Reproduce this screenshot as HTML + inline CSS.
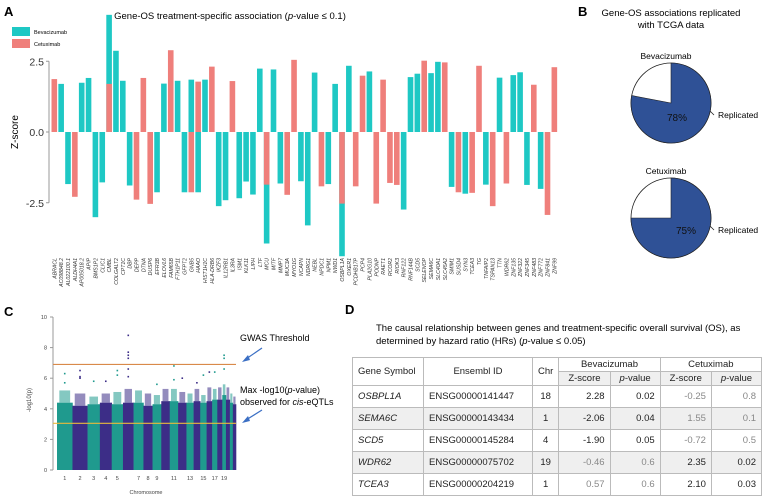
<!DOCTYPE html>
<html><head><meta charset="utf-8">
<style>
html,body{margin:0;padding:0;background:#fff;}
body{width:768px;height:501px;overflow:hidden;position:relative;font-family:"Liberation Sans",sans-serif;}
svg{position:absolute;left:0;top:0;}
table{position:absolute;left:352px;top:357px;width:410px;border-collapse:collapse;font-size:9.5px;color:#222;}
td,th{border:1px solid #bbb;height:21px;padding:0 5px;font-weight:normal;}
th{height:13px;}
.g{color:#888;}
.r{text-align:right;}
.c{text-align:center;}
.alt td{background:#efefef;}
</style></head>
<body>
<svg id="fig" width="768" height="501" xmlns="http://www.w3.org/2000/svg" font-family="Liberation Sans, sans-serif">
  <text x="4" y="16" font-size="13" font-weight="bold">A</text>
  <text x="230" y="19" font-size="9.5" text-anchor="middle">Gene-OS treatment-specific association (<tspan font-style="italic">p</tspan>-value ≤ 0.1)</text>
  <rect x="12" y="27" width="18" height="9" fill="#1ec8c4"/>
  <text x="34" y="34" font-size="5.5">Bevacizumab</text>
  <rect x="12" y="39" width="18" height="9" fill="#ef7f7b"/>
  <text x="34" y="46" font-size="5.5">Cetuximab</text>
  <text transform="translate(18,132) rotate(-90)" font-size="10" text-anchor="middle">Z-score</text>
  <g id="barA"></g>

  <text x="578" y="16" font-size="13" font-weight="bold">B</text>
  <text x="671" y="16" font-size="9.5" text-anchor="middle">Gene-OS associations replicated</text>
  <text x="671" y="28" font-size="9.5" text-anchor="middle">with TCGA data</text>
  <g id="pies"></g>

  <text x="4" y="316" font-size="13" font-weight="bold">C</text>
  <g id="manh"></g>
  <text x="240" y="341" font-size="9">GWAS Threshold</text>
  <text x="240" y="393" font-size="9">Max -log10(<tspan font-style="italic">p</tspan>-value)</text>
  <text x="240" y="405" font-size="9">observed for <tspan font-style="italic">cis</tspan>-eQTLs</text>
  <g stroke="#3b6fc4" stroke-width="1.2" fill="#3b6fc4">
    <line x1="262" y1="348" x2="246" y2="359"/><polygon points="242,362 248,355 250,360" stroke="none"/>
    <line x1="262" y1="410" x2="246" y2="420"/><polygon points="242,423 248,416 250,421" stroke="none"/>
  </g>

  <text x="345" y="314" font-size="13" font-weight="bold">D</text>
  <text x="376" y="331" font-size="9.5">The causal relationship between genes and treatment-specific overall survival (OS), as</text>
  <text x="376" y="344" font-size="9.5">determined by hazard ratio (HRs) (<tspan font-style="italic">p</tspan>-value ≤ 0.05)</text>
</svg>

<table>
  <tr><th rowspan="2" style="width:60px;text-align:left">Gene Symbol</th><th rowspan="2" style="width:98px">Ensembl ID</th><th rowspan="2" style="width:14px">Chr</th><th colspan="2">Bevacizumab</th><th colspan="2">Cetuximab</th></tr>
  <tr style="background:#efefef"><th>Z-score</th><th><i>p</i>-value</th><th>Z-score</th><th><i>p</i>-value</th></tr>
  <tr><td><i>OSBPL1A</i></td><td>ENSG00000141447</td><td class="c">18</td><td class="r">2.28</td><td class="r">0.02</td><td class="r g">-0.25</td><td class="r g">0.8</td></tr>
  <tr class="alt"><td><i>SEMA6C</i></td><td>ENSG00000143434</td><td class="c">1</td><td class="r">-2.06</td><td class="r">0.04</td><td class="r g">1.55</td><td class="r g">0.1</td></tr>
  <tr><td><i>SCD5</i></td><td>ENSG00000145284</td><td class="c">4</td><td class="r">-1.90</td><td class="r">0.05</td><td class="r g">-0.72</td><td class="r g">0.5</td></tr>
  <tr class="alt"><td><i>WDR62</i></td><td>ENSG00000075702</td><td class="c">19</td><td class="r g">-0.46</td><td class="r g">0.6</td><td class="r">2.35</td><td class="r">0.02</td></tr>
  <tr><td><i>TCEA3</i></td><td>ENSG00000204219</td><td class="c">1</td><td class="r g">0.57</td><td class="r g">0.6</td><td class="r">2.10</td><td class="r">0.03</td></tr>
</table>

<script>
const genes = ["ABRACL","AC098848.2","AL022100.1","ALDH4A1","AP005018.2","APIP","BMS1P2","CLIC1","CMBL","COLGALT2","CPT1C","DBP","DEPP","DTNA","DUSP6","EFR3B","ELOVL6","FAM65B","FTH1P11","GFPT2","GNB5","HAAO","HIST1H1C","HLA-DRB6","IKZF3","IL12RB1","IL3RA","ISM1","KLK11","LIPH","LTF","MCU","MITF","MMP7","MUC3A","MYO1G","NCAPN","NDRG1","NEBL","NPDC1","NPM1","NWD1","OSBPL1A","OXER1","PCDHB17P","PCP4","PLA2G10","PODNP","RAET1","RCOR2","RIOK3","RNF122","RNF144B","SCD5","SELENOP","SEMA6C","SLC40A1","SLC45A2","SMIM1","SUSD4","SYN3","TCEA3","TG","TNFAIP2","TSPAN13","TTN","WDR62","ZNF135","ZNF322","ZNF345","ZNF483","ZNF772","ZNF841","ZNF99"];
const bevZ = [null,1.70,-1.84,null,1.74,1.91,-3.01,-1.78,4.14,2.87,1.81,-1.89,null,null,null,-2.13,1.71,null,1.81,-2.13,1.85,-2.13,1.85,null,-2.62,-2.41,null,-2.34,-1.75,-2.21,2.24,-3.94,2.21,-1.82,null,null,-1.74,-3.30,2.10,null,-1.84,1.70,-4.39,2.34,null,null,2.14,null,null,null,null,-2.74,1.94,2.06,null,2.08,2.48,null,-1.94,null,-2.18,null,null,-1.86,null,1.92,null,2.01,2.11,-1.87,null,-2.01,null,null];
const cetZ = [1.87,null,null,-2.29,null,null,null,null,1.70,null,null,null,-2.39,1.91,-2.54,null,null,2.89,null,null,-2.13,1.78,null,2.31,null,null,1.80,null,null,null,null,-1.86,null,null,-2.22,2.55,null,null,null,-1.92,null,null,-2.53,null,-1.92,1.99,null,-2.53,1.85,-1.80,-1.87,null,null,null,2.52,null,null,2.46,null,-2.13,null,-2.15,2.34,null,-2.62,null,-1.82,null,null,null,1.67,null,-2.93,2.29];
const zTicks = [2.5,0.0,-2.5];

const NS="http://www.w3.org/2000/svg";
function mk(tag, attrs, parent){const e=document.createElementNS(NS,tag);for(const k in attrs)e.setAttribute(k,attrs[k]);parent.appendChild(e);return e;}

// Panel A
(function(){
  const g=document.getElementById('barA');
  const x0=51.5, slot=6.85, bw=5.6;
  const y=v=>132-v*28.3;
  const xb=i=>x0+i*slot;
  const ax=mk('line',{x1:49,x2:49,y1:y(2.5),y2:y(-2.5),stroke:'#999','stroke-width':1},g);
  
  
  zTicks.forEach(t=>{
    const tl=mk('line',{x1:46,x2:49,y1:y(t),y2:y(t),stroke:'#999'},g);
    
    
    const tx=mk('text',{x:44,y:y(t)+4,'font-size':10.5,'text-anchor':'end',fill:'#333'},g);
    tx.textContent=t.toFixed(1);
    
    
  });
  function bar(i,v,col,name){
    if(v===null)return;
    const r=mk('rect',{x:xb(i),width:bw,y:Math.min(y(v),y(0)),height:Math.abs(y(v)-y(0)),fill:col},g);
    
    
  }
  genes.forEach((gn,i)=>{
    bar(i,bevZ[i],'#1ec8c4','bar-bevacizumab-'+gn.toLowerCase());
    bar(i,cetZ[i],'#ef7f7b','bar-cetuximab-'+gn.toLowerCase());
    const cx=xb(i)+bw/2+2;
    const t=mk('text',{transform:`translate(${cx},258) rotate(-90)`,'font-size':5.2,'text-anchor':'end','font-style':'italic',fill:'#333'},g);
    t.textContent=gn;
    
    
  });
})();

// Panel B pies
const pieNames = ["Bevacizumab","Cetuximab"];
const pieReplicated = [78,75];
(function(){
  const g=document.getElementById('pies');
  const cy=[103,218], cx=671, r=40;
  pieNames.forEach((n,k)=>{
    const c=cy[k], p=pieReplicated[k]/100;
    const circ=mk('circle',{cx:cx,cy:c,r:r,fill:'#fff',stroke:'#222','stroke-width':0.8},g);
    
    
    const a=-Math.PI/2+p*2*Math.PI;
    const ex=cx+r*Math.cos(a), ey=c+r*Math.sin(a);
    const path=mk('path',{d:`M${cx},${c} L${cx},${c-r} A${r},${r} 0 ${p>0.5?1:0} 1 ${ex},${ey} Z`,fill:'#2f5196',stroke:'#222','stroke-width':0.6},g);
    
    
    const lt=mk('text',{x:cx-5,y:c-44,'font-size':8.5,'text-anchor':'middle'},g);
    lt.textContent=n;
    
    
    const pt=mk('text',{x:cx+(k?15:6),y:c+(k?16:18),'font-size':10,'text-anchor':'middle',fill:'#111'},g);
    pt.textContent=pieReplicated[k]+'%';
    
    
    const ln=mk('line',{x1:cx+r-1,y1:c+8,x2:cx+r+3,y2:c+12,stroke:'#222','stroke-width':0.8},g);
    
    
    const rt=mk('text',{x:cx+47,y:c+15,'font-size':8.5},g);
    rt.textContent='Replicated';
    
    
  });
})();

// Panel C manhattan
const chroms = ["1","2","3","4","5","6","7","8","9","10","11","12","13","14","15","16","17","18","19","20","21","22"];
const chrSize = [249,243,198,191,181,171,159,146,141,136,135,134,115,107,102,90,83,80,59,63,48,51];
const chrSolid = [4.4,4.2,4.3,4.4,4.3,4.4,4.4,4.2,4.3,4.5,4.5,4.4,4.4,4.5,4.4,4.5,4.6,4.6,4.9,4.6,4.4,4.3];
const chrDense = [5.2,5.0,4.8,5.0,5.1,5.3,5.2,5.0,4.9,5.3,5.3,5.1,5.0,5.3,4.9,5.4,5.3,5.4,5.6,5.4,5.0,4.8];
const hitChr = [1,1,2,2,2,3,4,5,5,6,6,6,6,6,6,9,11,11,12,14,15,16,17,19,19,19];
const hitVal = [5.7,6.3,6.5,6.1,6.0,5.8,5.8,6.5,6.2,8.8,7.7,7.5,7.3,6.6,6.1,5.6,6.8,5.9,6.0,5.7,6.2,6.4,6.4,7.5,7.3,6.6];
const yTicksC = [0,2,4,6,8,10];
const gwasLine = 6.9, eqtlLine = 3.05;
const chrLabels = ["1","2","3","4","5","7","8","9","11","13","15","17","19"];
(function(){
  const g=document.getElementById('manh');
  const X0=57, X1=236;
  const y=v=>470-v*15.3;
  const tot=chrSize.reduce((a,b)=>a+b,0);
  const ax=mk('line',{x1:53,x2:53,y1:y(0),y2:y(10),stroke:'#999'},g);
  
  
  yTicksC.forEach(t=>{
    const l=mk('line',{x1:50,x2:53,y1:y(t),y2:y(t),stroke:'#999'},g);
    
    
    const tx=mk('text',{x:47,y:y(t)+2,'font-size':5.5,'text-anchor':'end',fill:'#444'},g);
    tx.textContent=t;
    
    
  });
  const yl=mk('text',{transform:'translate(31,400) rotate(-90)','font-size':6,'text-anchor':'middle',fill:'#444'},g);
  yl.textContent='-log10(p)';
  
  
  let cum=0; const centers={};
  chroms.forEach((c,i)=>{
    const xs=X0+cum/tot*(X1-X0), w=chrSize[i]/tot*(X1-X0);
    cum+=chrSize[i];
    centers[c]={x:xs+w/2,xs:xs,w:w};
    const col=i%2===0?'#1f9a8e':'#3c2d87';
    const d=mk('rect',{x:xs+w*0.15,width:w*0.7,y:y(chrDense[i]),height:y(chrSolid[i])-y(chrDense[i]),fill:col,opacity:0.55},g);
    
    
    const r=mk('rect',{x:xs,width:w+0.3,y:y(chrSolid[i]),height:y(0)-y(chrSolid[i]),fill:col},g);
    
    
  });
  hitChr.forEach((c,k)=>{
    const ce=centers[String(c)];
    const idx=c-1;
    const p=mk('rect',{x:ce.x-0.8,y:y(hitVal[k])-0.8,width:1.6,height:1.6,fill:idx%2===0?'#1f9a8e':'#3c2d87'},g);
    
    
  });
  const gl=mk('line',{x1:X0-4,x2:X1,y1:y(gwasLine),y2:y(gwasLine),stroke:'#d98a4a','stroke-width':1.2},g);
  
  
  const el=mk('line',{x1:X0-4,x2:X1,y1:y(eqtlLine),y2:y(eqtlLine),stroke:'#e8b93c','stroke-width':1.2},g);
  
  
  chrLabels.forEach(c=>{
    const t=mk('text',{x:centers[c].x,y:480,'font-size':5.5,'text-anchor':'middle',fill:'#444'},g);
    t.textContent=c;
    
    
  });
  const xt=mk('text',{x:146,y:494,'font-size':5.5,'text-anchor':'middle',fill:'#444'},g);
  xt.textContent='Chromosome';
  
  
})();
</script>
</body></html>
